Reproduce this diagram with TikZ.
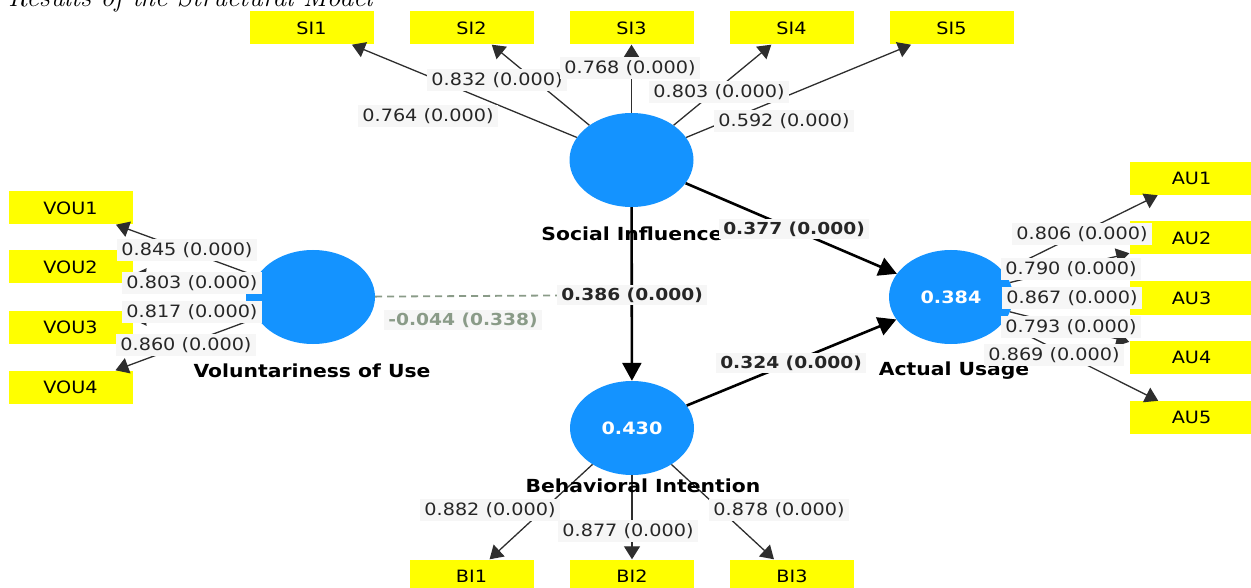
\documentclass[tikz,border=0pt]{standalone}
\usepackage{fontspec}
\newfontfamily\plsfont[FakeStretch=1.13]{DejaVu Sans}
\usepackage{tikz}
\usetikzlibrary{%
	arrows.meta,%
	shapes.geometric%
}
\definecolor{Latent}{HTML}{1493FF}
\definecolor{Indicator}{HTML}{FFFF00}
\definecolor{LabelBg}{HTML}{F6F6F6}
\definecolor{Moderator}{HTML}{8A9B88}
\definecolor{Outer}{HTML}{2E2E2E}

\tikzset{
	latent/.style={ellipse,fill=Latent,minimum width=124pt,minimum height=94pt,inner sep=0pt,text=white,font=\plsfont\bfseries\fontsize{17}{20}\selectfont},
	indicator/.style={rectangle,fill=Indicator,minimum width=124pt,minimum height=33pt,inner sep=0pt,font=\plsfont\fontsize{17}{20}\selectfont},
	loading/.style={fill=LabelBg,inner xsep=4pt,inner ysep=3pt,text=black!85,font=\plsfont\fontsize{17}{20}\selectfont},
	coef/.style={loading,font=\plsfont\bfseries\fontsize{16.5}{20}\selectfont},
	construct/.style={inner sep=0pt,font=\plsfont\bfseries\fontsize{18}{21}\selectfont},
	outer/.style={draw=Outer,line width=1.3pt,-{Triangle[length=13pt,width=16pt]}},
	inner/.style={draw=black,line width=2.6pt,-{Triangle[length=18pt,width=19pt]}},
	moderating/.style={draw=Moderator,line width=1.8pt,dash pattern=on 7pt off 5pt}
}

\begin{document}
\begin{tikzpicture}[x=1pt,y=-1pt]
\useasboundingbox (0,0) rectangle (1251,588);
% Caption
\node [anchor=base west,inner sep=0pt,font=\fontsize{27.5}{32}\selectfont\itshape] (caption) at (8,7) {Results of the Structural Model};
% Latent variables
\node [latent] (si) at (631.5,160) {};
\node [latent] (vou) at (313,297) {};
\node [latent] (bi) at (632,428) {0.430};
\node [latent] (au) at (951,297) {0.384};
\fill [Latent] (vou.west) ++(-5,-5) rectangle ++(14,10);
\fill [Latent] (au.east) ++(-8,-5) rectangle ++(14,10);
% Indicators
\node [indicator] (si1) at (311.5,28) {SI1};
\node [indicator] (si2) at (471.5,28) {SI2};
\node [indicator] (si3) at (631.5,28) {SI3};
\node [indicator] (si4) at (791.5,28) {SI4};
\node [indicator] (si5) at (951.5,28) {SI5};
\node [indicator] (vou1) at (70.5,208) {VOU1};
\node [indicator] (vou2) at (70.5,267) {VOU2};
\node [indicator] (vou3) at (70.5,327) {VOU3};
\node [indicator] (vou4) at (70.5,387) {VOU4};
\node [indicator] (au1) at (1191.5,178.5) {AU1};
\node [indicator] (au2) at (1191.5,238) {AU2};
\node [indicator] (au3) at (1191.5,298) {AU3};
\node [indicator] (au4) at (1191.5,357.5) {AU4};
\node [indicator] (au5) at (1191.5,417.5) {AU5};
\node [indicator] (bi1) at (471.5,576) {BI1};
\node [indicator] (bi2) at (632,576) {BI2};
\node [indicator] (bi3) at (792,576) {BI3};
% Outer model
\draw [outer] (si) -- (si1);
\draw [outer] (si) -- (si2);
\draw [outer] (si) -- (si3);
\draw [outer] (si) -- (si4);
\draw [outer] (si) -- (si5);
\draw [outer] (vou) -- (vou1);
\draw [outer] (vou) -- (vou2);
\draw [outer] (vou) -- (vou3);
\draw [outer] (vou) -- (vou4);
\draw [outer] (au) -- (au1);
\draw [outer] (au) -- (au2);
\draw [outer] (au) -- (au3);
\draw [outer] (au) -- (au4);
\draw [outer] (au) -- (au5);
\draw [outer] (bi) -- (bi1);
\draw [outer] (bi) -- (bi2);
\draw [outer] (bi) -- (bi3);
% Inner model
\coordinate (mod) at (632,295);
\draw [moderating] (vou) -- (mod);
\draw [inner] (si) -- (bi);
\draw [inner] (si) -- (au);
\draw [inner] (bi) -- (au);
% Construct names
\node [construct] (n-si) at (632,234) {Social Influence};
\node [construct] (n-vou) at (312,371) {Voluntariness of Use};
\node [construct] (n-au) at (954,371) {Actual Usage};
\node [construct] (n-bi) at (643,486) {Behavioral Intention};
% Loadings
\node [loading] (l-si1) at (428,116) {0.764 (0.000)};
\node [loading] (l-si2) at (497,80) {0.832 (0.000)};
\node [loading] (l-si3) at (630,68) {0.768 (0.000)};
\node [loading] (l-si4) at (719,92) {0.803 (0.000)};
\node [loading] (l-si5) at (784,121) {0.592 (0.000)};
\node [loading] (l-vou1) at (187,250) {0.845 (0.000)};
\node [loading] (l-vou2) at (192,283) {0.803 (0.000)};
\node [loading] (l-vou3) at (192,312) {0.817 (0.000)};
\node [loading] (l-vou4) at (186,345) {0.860 (0.000)};
\node [loading] (l-au1) at (1082,234) {0.806 (0.000)};
\node [loading] (l-au2) at (1071,269) {0.790 (0.000)};
\node [loading] (l-au3) at (1072,298) {0.867 (0.000)};
\node [loading] (l-au4) at (1071,327) {0.793 (0.000)};
\node [loading] (l-au5) at (1054,355) {0.869 (0.000)};
\node [loading] (l-bi1) at (490,510) {0.882 (0.000)};
\node [loading] (l-bi2) at (628,531) {0.877 (0.000)};
\node [loading] (l-bi3) at (779,510) {0.878 (0.000)};
% Path coefficients
\node [coef] (c-sibi) at (632,295) {0.386 (0.000)};
\node [coef] (c-siau) at (794,229) {0.377 (0.000)};
\node [coef] (c-biau) at (791,363) {0.324 (0.000)};
\node [coef,text=Moderator] (c-vou) at (463,320) {-0.044 (0.338)};
\end{tikzpicture}
\end{document}
